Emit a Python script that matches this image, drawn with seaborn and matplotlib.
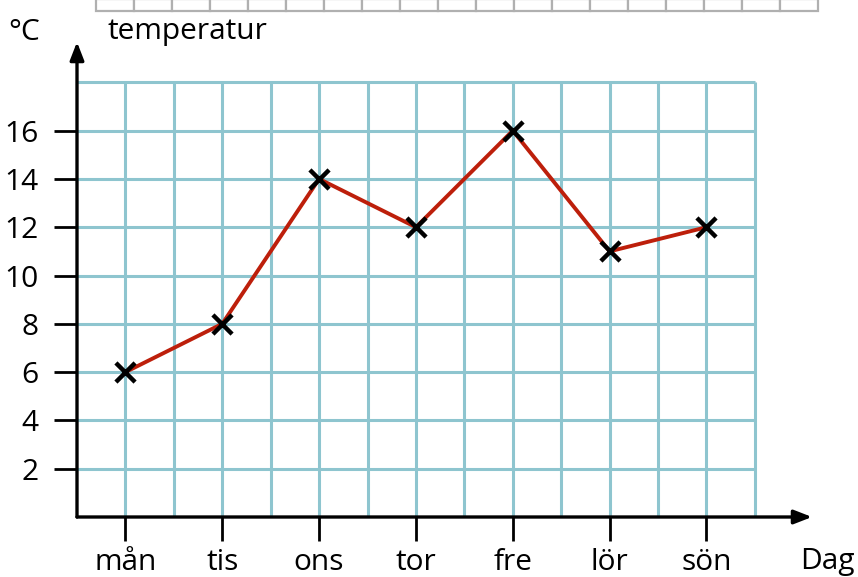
import numpy as np
import pandas as pd
import matplotlib.pyplot as plt
import seaborn as sns
from matplotlib.patches import Rectangle

dagar = ['mån', 'tis', 'ons', 'tor', 'fre', 'lör', 'sön']
temperatur = [6, 8, 14, 12, 16, 11, 12]
y_ticks = [2, 4, 6, 8, 10, 12, 14, 16]

df = pd.DataFrame({'dag': dagar, 'temp': temperatur})
df['pos'] = np.arange(len(dagar))

sns.set_theme(style="white")
plt.rcParams['font.family'] = ['Open Sans', 'DejaVu Sans']
plt.rcParams['text.color'] = 'black'
plt.rcParams['xtick.color'] = 'black'
plt.rcParams['ytick.color'] = 'black'

W, H = 858, 577
fig = plt.figure(figsize=(W / 100, H / 100), dpi=100)
# axes box in pixels: x 77..812, y 42..517
ax = fig.add_axes([77 / W, (H - 517) / H, (812 - 77) / W, (517 - 42) / H])

x_min, x_max = -0.5, 7.09
y_min, y_max = 0, 19.67
ax.set_xlim(x_min, x_max)
ax.set_ylim(y_min, y_max)

grid_col = '#8ec5cf'
grid_x = np.arange(-0.5, 6.51, 0.5)
grid_y = np.arange(2, 18.1, 2)
ax.vlines(grid_x[1:], 0, 18, color=grid_col, lw=2.2, zorder=1)
ax.hlines(grid_y, -0.5, 6.5, color=grid_col, lw=2.2, zorder=1)

sns.lineplot(data=df, x='pos', y='temp', color='#bd1f0b', lw=2.8, ax=ax, zorder=3)
sns.scatterplot(data=df, x='pos', y='temp', marker='x', color='black', s=190,
                linewidth=3.2, ax=ax, zorder=4)

for s in ax.spines.values():
    s.set_visible(False)

arrow = dict(arrowstyle='-|>,head_length=0.9,head_width=0.35', color='black', lw=2.4,
             shrinkA=0, shrinkB=0)
ax.annotate('', xy=(x_min, y_max), xytext=(x_min, 0), arrowprops=arrow,
            annotation_clip=False)
ax.annotate('', xy=(x_max, 0), xytext=(x_min, 0), arrowprops=arrow,
            annotation_clip=False)

ax.set_xticks(df['pos'])
ax.set_xticklabels(dagar)
ax.set_yticks(y_ticks)
ax.set_yticklabels([str(v) for v in y_ticks])
ax.tick_params(axis='y', direction='out', length=16.5, width=2.0, pad=11,
               labelsize=21.5, left=True)
ax.tick_params(axis='x', direction='out', length=17, width=2.0, pad=5,
               labelsize=21.5, bottom=True)
ax.set_xlabel('')
ax.set_ylabel('')

fig.text(8 / W, 1 - 32 / H, '°C', fontsize=21.5, va='center', ha='left')
fig.text(107 / W, 1 - 32 / H, 'temperatur', fontsize=21.5, va='center', ha='left')
fig.text(800 / W, 1 - 561 / H, 'Dag', fontsize=21.5, va='center', ha='left')

# partial table row at the top edge
cell_w = (818 - 96) / 19
for i in range(19):
    fig.patches.append(Rectangle(((96 + i * cell_w) / W, 1 - 11 / H), cell_w / W, 12 / H,
                                 transform=fig.transFigure, facecolor='white',
                                 edgecolor='#b0b0b0', lw=1.6))

fig.savefig('out.png', dpi=100)
